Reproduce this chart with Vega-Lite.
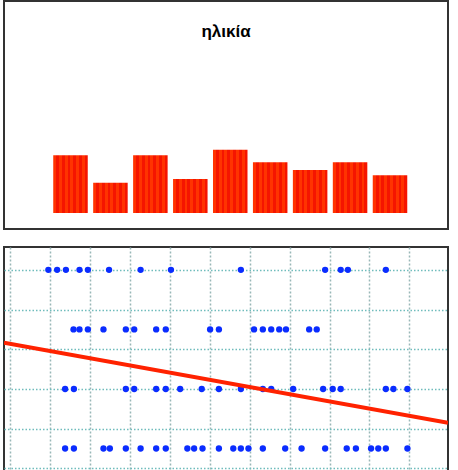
{
  "$schema": "https://vega.github.io/schema/vega-lite/v6.json",
  "background": "white",
  "padding": {"left": 3, "top": 0, "right": 0, "bottom": 0},
  "spacing": 16,
  "config": {
    "view": {"stroke": "#333333", "strokeWidth": 2},
    "axis": {"labels": false, "ticks": false, "domain": false, "title": null}
  },
  "vconcat": [
    {
      "width": 444,
      "height": 228,
      "title": {"text": "ηλικία", "font": "Liberation Sans", "fontSize": 17, "fontWeight": "bold", "color": "#000000", "offset": -48, "baseline": "middle", "anchor": "middle"},
      "data": {"values": [
        {"bin": "1", "count": 57.7},
        {"bin": "2", "count": 30.3},
        {"bin": "3", "count": 57.7},
        {"bin": "4", "count": 34},
        {"bin": "5", "count": 63.3},
        {"bin": "6", "count": 50.7},
        {"bin": "7", "count": 43},
        {"bin": "8", "count": 50.7},
        {"bin": "9", "count": 37.7}
      ]},
      "mark": {
        "type": "bar",
        "color": {
          "gradient": "linear", "x1": 0, "x2": 1, "y1": 0, "y2": 0,
          "stops": [
            {"offset": 0, "color": "#ff3300"}, {"offset": 0.083, "color": "#ff3300"},
            {"offset": 0.083, "color": "#f51500"}, {"offset": 0.167, "color": "#f51500"},
            {"offset": 0.167, "color": "#ff3300"}, {"offset": 0.25, "color": "#ff3300"},
            {"offset": 0.25, "color": "#f51500"}, {"offset": 0.333, "color": "#f51500"},
            {"offset": 0.333, "color": "#ff3300"}, {"offset": 0.417, "color": "#ff3300"},
            {"offset": 0.417, "color": "#f51500"}, {"offset": 0.5, "color": "#f51500"},
            {"offset": 0.5, "color": "#ff3300"}, {"offset": 0.583, "color": "#ff3300"},
            {"offset": 0.583, "color": "#f51500"}, {"offset": 0.667, "color": "#f51500"},
            {"offset": 0.667, "color": "#ff3300"}, {"offset": 0.75, "color": "#ff3300"},
            {"offset": 0.75, "color": "#f51500"}, {"offset": 0.833, "color": "#f51500"},
            {"offset": 0.833, "color": "#ff3300"}, {"offset": 0.917, "color": "#ff3300"},
            {"offset": 0.917, "color": "#f51500"}, {"offset": 1, "color": "#f51500"}
          ]
        }
      },
      "encoding": {
        "x": {"field": "bin", "type": "ordinal", "sort": null, "axis": null,
              "scale": {"paddingInner": 0.136, "paddingOuter": 1, "align": 0.5, "round": false, "range": [9.3, 443.2]}},
        "y": {"field": "count", "type": "quantitative", "axis": null,
              "scale": {"domain": [-16, 212], "nice": false, "zero": false}}
      }
    },
    {
      "width": 444,
      "height": 226,
      "layer": [
        {
          "data": {"values": [
            {"x": 0.96, "y": 4}, {"x": 1.18, "y": 4}, {"x": 1.40, "y": 4}, {"x": 1.74, "y": 4}, {"x": 1.95, "y": 4},
            {"x": 2.48, "y": 4}, {"x": 3.27, "y": 4}, {"x": 4.03, "y": 4}, {"x": 5.78, "y": 4}, {"x": 7.89, "y": 4},
            {"x": 8.28, "y": 4}, {"x": 8.46, "y": 4}, {"x": 9.41, "y": 4},
            {"x": 1.59, "y": 3}, {"x": 1.74, "y": 3}, {"x": 1.95, "y": 3}, {"x": 2.34, "y": 3}, {"x": 2.90, "y": 3},
            {"x": 3.11, "y": 3}, {"x": 3.66, "y": 3}, {"x": 3.90, "y": 3}, {"x": 5.01, "y": 3}, {"x": 5.23, "y": 3},
            {"x": 6.11, "y": 3}, {"x": 6.33, "y": 3}, {"x": 6.54, "y": 3}, {"x": 6.74, "y": 3}, {"x": 6.91, "y": 3},
            {"x": 7.49, "y": 3}, {"x": 7.68, "y": 3},
            {"x": 1.38, "y": 2}, {"x": 1.60, "y": 2}, {"x": 2.90, "y": 2}, {"x": 3.11, "y": 2}, {"x": 3.66, "y": 2},
            {"x": 3.90, "y": 2}, {"x": 4.26, "y": 2}, {"x": 4.80, "y": 2}, {"x": 5.23, "y": 2}, {"x": 5.78, "y": 2},
            {"x": 6.33, "y": 2}, {"x": 6.54, "y": 2}, {"x": 7.09, "y": 2}, {"x": 7.84, "y": 2}, {"x": 8.08, "y": 2},
            {"x": 8.28, "y": 2}, {"x": 9.41, "y": 2}, {"x": 9.60, "y": 2}, {"x": 9.95, "y": 2},
            {"x": 1.38, "y": 1}, {"x": 1.60, "y": 1}, {"x": 2.34, "y": 1}, {"x": 2.50, "y": 1}, {"x": 2.90, "y": 1},
            {"x": 3.27, "y": 1}, {"x": 3.66, "y": 1}, {"x": 3.90, "y": 1}, {"x": 4.44, "y": 1}, {"x": 4.61, "y": 1},
            {"x": 4.82, "y": 1}, {"x": 5.23, "y": 1}, {"x": 5.59, "y": 1}, {"x": 5.78, "y": 1}, {"x": 5.97, "y": 1},
            {"x": 6.33, "y": 1}, {"x": 6.89, "y": 1}, {"x": 7.30, "y": 1}, {"x": 7.89, "y": 1}, {"x": 8.43, "y": 1},
            {"x": 8.66, "y": 1}, {"x": 9.04, "y": 1}, {"x": 9.22, "y": 1}, {"x": 9.41, "y": 1}, {"x": 9.95, "y": 1}
          ]},
          "mark": {"type": "circle", "size": 40, "color": "#0a2cff", "opacity": 1, "clip": true},
          "encoding": {
            "x": {"field": "x", "type": "quantitative",
                  "scale": {"domain": [-0.15, 10.966], "nice": false, "zero": false},
                  "axis": {"values": [0, 1, 2, 3, 4, 5, 6, 7, 8, 9, 10], "grid": true, "gridColor": "#99b8b8", "gridDash": [2, 2], "gridWidth": 1.5}},
            "y": {"field": "y", "type": "quantitative",
                  "scale": {"domain": [0.589, 4.384], "nice": false, "zero": false},
                  "axis": {"values": [0.6667, 1, 1.3333, 1.6667, 2, 2.3333, 2.6667, 3, 3.3333, 3.6667, 4, 4.3333], "grid": true, "gridColor": "#6fbcbc", "gridDash": [1.5, 2], "gridWidth": 1.3}}
          }
        },
        {
          "data": {"values": [{"x": -0.15, "y": 2.777}, {"x": 10.966, "y": 1.433}]},
          "mark": {"type": "line", "color": "#ff2200", "strokeWidth": 4, "clip": true},
          "encoding": {
            "x": {"field": "x", "type": "quantitative"},
            "y": {"field": "y", "type": "quantitative"}
          }
        }
      ]
    }
  ]
}
